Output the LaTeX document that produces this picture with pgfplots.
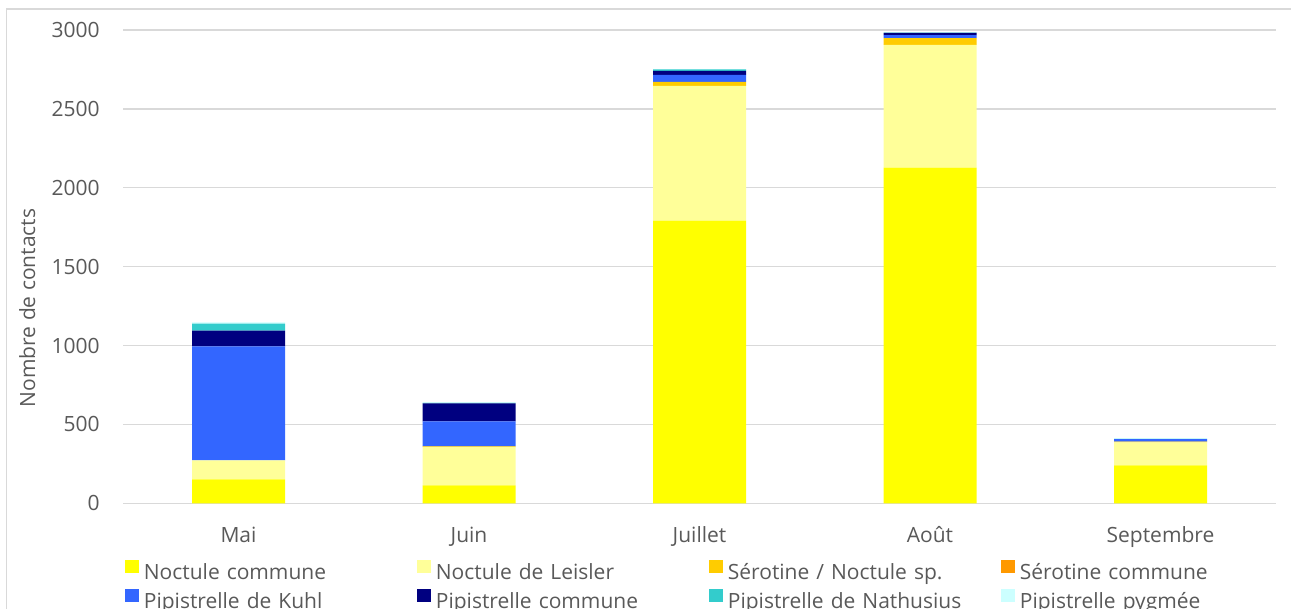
\documentclass[border=0pt]{standalone}
\usepackage{fontspec}
\setmainfont{Open Sans}
\usepackage{pgfplots}
\pgfplotsset{compat=1.18}

\definecolor{textgray}{HTML}{595959}
\definecolor{gridgray}{HTML}{D9D9D9}
\definecolor{cNocCom}{HTML}{FFFF00}
\definecolor{cNocLei}{HTML}{FFFF99}
\definecolor{cSerNoc}{HTML}{FFCC00}
\definecolor{cSerCom}{HTML}{FF9900}
\definecolor{cPipKuh}{HTML}{3366FF}
\definecolor{cPipCom}{HTML}{000080}
\definecolor{cPipNat}{HTML}{33CCCC}
\definecolor{cPipPyg}{HTML}{CCFFFF}

\begin{document}
\begin{tikzpicture}[every node/.append style={text=textgray}]
\begin{axis}[
  at={(61.625pt,52.85pt)}, anchor=south west,
  scale only axis, width=576.25pt, height=236.67pt,
  font=\fontsize{10.5}{12.6}\selectfont,
  ybar stacked, bar width=46.5pt,
  xmin=-0.5, xmax=4.5, ymin=0, ymax=3000,
  xtick={0,1,2,3,4},
  xticklabels={Mai,Juin,Juillet,Août,Septembre},
  ytick={0,500,1000,1500,2000,2500,3000},
  scaled y ticks=false,
  /pgf/number format/1000 sep={},
  /pgf/number format/assume math mode=true,
  major tick length=0pt,
  axis line style={draw=none},
  ymajorgrids, major grid style={draw=gridgray, line width=0.75pt},
  xticklabel style={anchor=base, yshift=-19.7pt, inner sep=0pt},
  yticklabel style={anchor=east, xshift=-11.6pt, inner sep=0pt},
  ylabel={Nombre de contacts},
  ylabel style={at={(axis description cs:-0.0765,0.4126)}, anchor=base, rotate=0},
  every axis plot post/.append style={draw=none,
    legend image code/.code={\fill[##1] (0pt,0pt) rectangle (6.75pt,6.75pt);}},
  legend columns=4,
  legend style={draw=none, fill=none, inner sep=0pt,
    at={(axis description cs:0.0015,-0.1166)}, anchor=north west,
    nodes={inner xsep=2.5pt, inner ysep=1.75pt, text height=8.5pt,
      text depth=2.5pt, text width=134.25pt, align=left}},
]
% bottom to top: species stacked per month
\addplot[fill=cNocCom] coordinates {(0,152) (1,114) (2,1791) (3,2127) (4,241)};
\addlegendentry{Noctule commune}
\addplot[fill=cNocLei] coordinates {(0,120) (1,242) (2,855) (3,778) (4,145)};
\addlegendentry{Noctule de Leisler}
\addplot[fill=cSerNoc] coordinates {(0,0) (1,5) (2,25) (3,44) (4,5)};
\addlegendentry{Sérotine / Noctule sp.}
\addplot[fill=cSerCom] coordinates {(0,0) (1,0) (2,0) (3,0) (4,0)};
\addlegendentry{Sérotine commune}
\addplot[fill=cPipKuh] coordinates {(0,722) (1,158) (2,44) (3,19) (4,15)};
\addlegendentry{Pipistrelle de Kuhl}
\addplot[fill=cPipCom] coordinates {(0,101) (1,114) (2,25) (3,13) (4,0)};
\addlegendentry{Pipistrelle commune}
\addplot[fill=cPipNat] coordinates {(0,44) (1,3) (2,10) (3,2) (4,3)};
\addlegendentry{Pipistrelle de Nathusius}
\addplot[fill=cPipPyg] coordinates {(0,8) (1,4) (2,2) (3,1) (4,2)};
\addlegendentry{Pipistrelle pygmée}
\end{axis}
% chart frame
\draw[gridgray, line width=0.75pt] (3.25pt,-20pt) rectangle (680pt,300pt);
\pgfresetboundingbox
\useasboundingbox (0pt,0pt) rectangle (645.5pt,304.5pt);
\end{tikzpicture}
\end{document}
